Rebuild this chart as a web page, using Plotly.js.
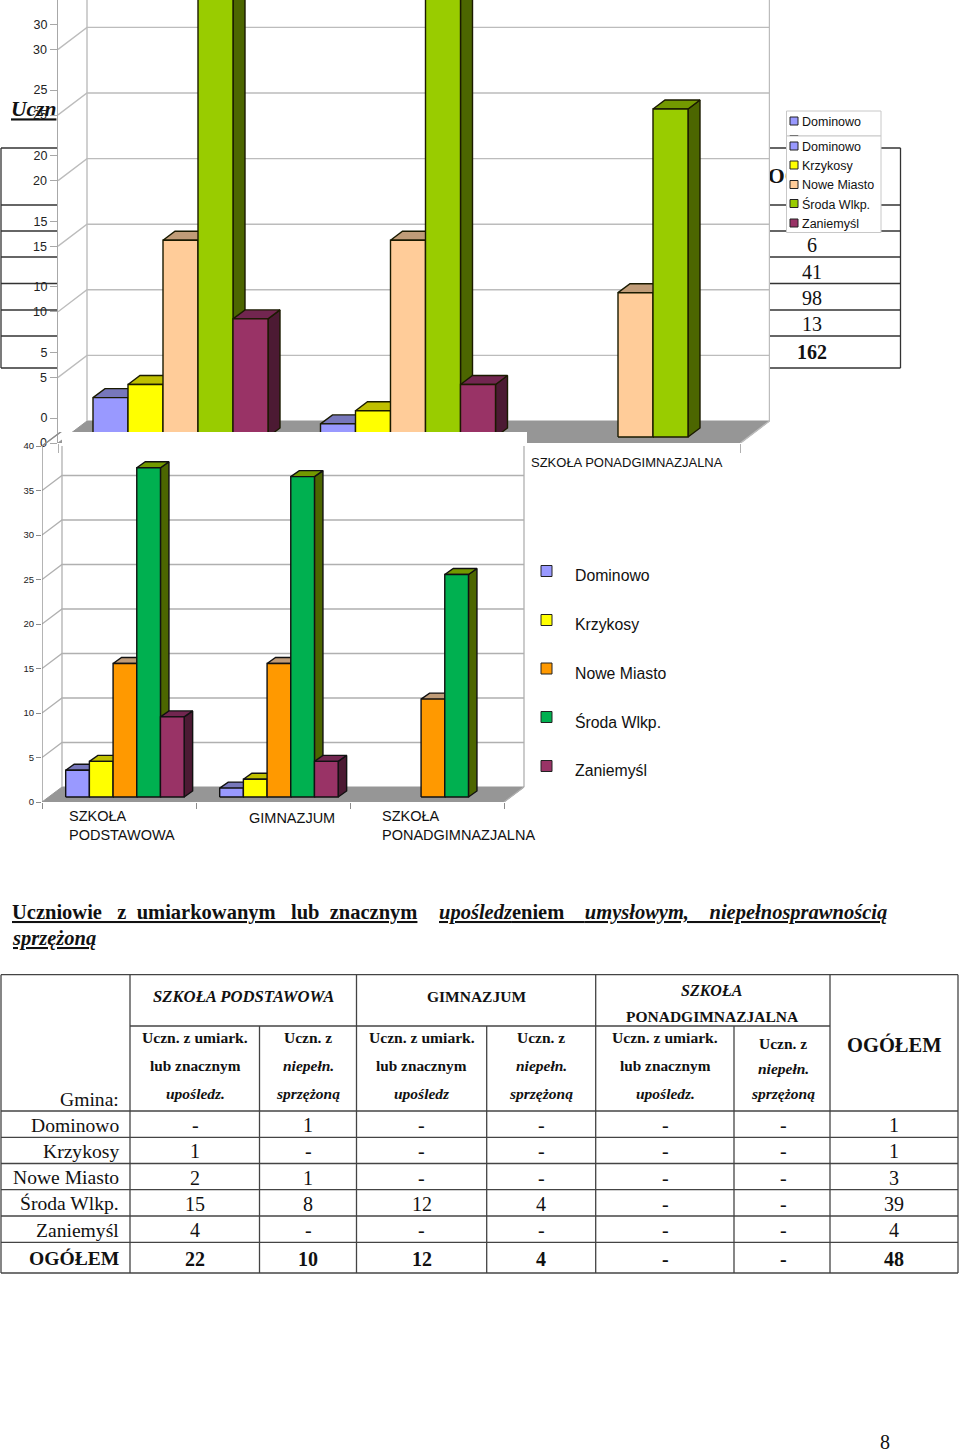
<!DOCTYPE html>
<html>
<head>
<meta charset="utf-8">
<script src="https://cdn.plot.ly/plotly-3.0.1.min.js"></script>
<style>body{margin:0;background:#fff}</style>
</head>
<body>
<div id="page" style="width:960px;height:1452px"></div>
<script>
// chart values, same in both charts
var categories = ['SZKOŁA PODSTAWOWA', 'GIMNAZJUM', 'SZKOŁA PONADGIMNAZJALNA'];
var gminy = ['Dominowo', 'Krzykosy', 'Nowe Miasto', 'Środa Wlkp.', 'Zaniemyśl'];
var dominowo = [3, 1, 0];
var krzykosy = [4, 2, 0];
var noweMiasto = [15, 15, 11];
var srodaWlkp = [37, 36, 25];
var zaniemysl = [9, 4, 0];
var seriesValues = [dominowo, krzykosy, noweMiasto, srodaWlkp, zaniemysl];
var gridValues = [5, 10, 15, 20, 25, 30, 35, 40];

// colours
var frontTop = ['#9999ff', '#ffff00', '#ffcc99', '#99cc00', '#993366'];
var frontLow = ['#9999ff', '#ffff00', '#ff9900', '#00b050', '#993366'];
var capColors = ['#7777bb', '#bfbf00', '#c09c78', '#739900', '#722650'];
var sideColors = ['#4c4c80', '#808000', '#806650', '#4c6600', '#4c1a33'];

// lower table
var rowNames = ['Dominowo', 'Krzykosy', 'Nowe Miasto', 'Środa Wlkp.', 'Zaniemyśl', 'OGÓŁEM'];
var tableRows = [
  ['-', '1', '-', '-', '-', '-', '1'],
  ['1', '-', '-', '-', '-', '-', '1'],
  ['2', '1', '-', '-', '-', '-', '3'],
  ['15', '8', '12', '4', '-', '-', '39'],
  ['4', '-', '-', '-', '-', '-', '4'],
  ['22', '10', '12', '4', '-', '-', '48']
];
var upperTotals = ['6', '41', '98', '13', '162'];

var SERIF = '"Liberation Serif", serif';
var SANS = '"Liberation Sans", Arial, sans-serif';

var traces = [];
var shapes = [];
var annotations = [];

function addText(x, y, text, size, anchor, family, color) {
  annotations.push({
    xref: 'x', yref: 'y', x: x, y: y, text: text, showarrow: false,
    xanchor: anchor || 'center', yanchor: 'middle', align: anchor || 'center', borderpad: 0,
    font: {family: family || SERIF, size: size, color: color || '#111'}
  });
}

function poly(xs, ys, fill, lineColor, width, xa, ya) {
  traces.push({
    x: xs, y: ys, xaxis: xa, yaxis: ya, type: 'scatter', mode: 'lines',
    fill: fill ? 'toself' : 'none', fillcolor: fill || undefined,
    line: {color: lineColor, width: width},
    hoverinfo: 'skip', showlegend: false
  });
}

function hline(x0, x1, y, w) {
  shapes.push({type: 'line', xref: 'x', yref: 'y', x0: x0, x1: x1, y0: y, y1: y, line: {color: '#444', width: w || 1.3}});
}
function vline(x, y0, y1, w) {
  shapes.push({type: 'line', xref: 'x', yref: 'y', x0: x, x1: x, y0: y0, y1: y1, line: {color: '#444', width: w || 1.3}});
}

// one fake 3d chart, c holds the pixel scale of the chart
function draw3d(c) {
  var w = 1 / 6.5;
  var ux = 1 / c.groupPx, uy = 1 / c.unitPx;
  var base = c.basePx * uy;
  var wallX = c.wallDx * ux, wallY = c.wallDy * uy;
  var endX = categories.length;

  // white chart area hides what is under it
  var b = c.blank;
  poly([b[0], b[1], b[1], b[0], b[0]], [b[2], b[2], b[3], b[3], b[2]], '#ffffff', 'rgba(0,0,0,0)', 0, c.xa, c.ya);

  // floor
  poly([0, wallX, endX + wallX, endX, 0], [0, wallY, wallY, 0, 0], '#969696', '#969696', 1, c.xa, c.ya);

  // walls and grid
  var gx = [], gy = [];
  gridValues.forEach(function (v) {
    gx.push(0, wallX, endX + wallX, null);
    gy.push(v, v + wallY, v + wallY, null);
  });
  gx.push(wallX, wallX, null, endX + wallX, endX + wallX, null, endX, endX + wallX);
  gy.push(wallY, c.top, null, wallY, c.top, null, 0, wallY);
  poly(gx, gy, null, c.gridColor, c.gridWidth, c.xa, c.ya);

  // bars, left to right so that the later ones cover the earlier sides
  var dx = c.depthX * ux, dy = c.depthY * uy;
  seriesValues.forEach(function (vals, s) {
    var sideX = [], sideY = [], capX = [], capY = [], frontX = [], frontY = [];
    vals.forEach(function (v, g) {
      if (!v) return;
      var l = g + (1 + s) * w, r = l + w, t = base + v;
      sideX.push(r, r + dx, r + dx, r, r, null);
      sideY.push(base, base + dy, t + dy, t, base, null);
      capX.push(l, l + dx, r + dx, r, l, null);
      capY.push(t, t + dy, t + dy, t, t, null);
      frontX.push(l, r, r, l, l, null);
      frontY.push(base, base, t, t, base, null);
    });
    poly(sideX, sideY, sideColors[s], c.edge, c.edgeWidth, c.xa, c.ya);
    poly(capX, capY, capColors[s], c.edge, c.edgeWidth, c.xa, c.ya);
    poly(frontX, frontY, c.front[s], c.edge, c.edgeWidth, c.xa, c.ya);
  });
}

// text and lines of the page under the upper chart, these get covered by it
var lx = [], ly = [];
[148, 205, 231, 257, 283.5, 310, 336, 368].forEach(function (y) {
  lx.push(1, 900.5, null);
  ly.push(y, y, null);
});
lx.push(1, 1, null, 900.5, 900.5);
ly.push(148, 368, null, 148, 368);
poly(lx, ly, null, '#333', 1.3, 'x', 'y');
traces.push({
  x: [11, 768], y: [111, 178], xaxis: 'x', yaxis: 'y', type: 'scatter', mode: 'text',
  text: ['<b><i><u>Uczn</u></i></b>', '<b>OG</b>'], textposition: 'middle right',
  textfont: {family: SERIF, size: 21.5, color: '#111'}, hoverinfo: 'skip', showlegend: false
});

draw3d({
  xa: 'x2', ya: 'y2', groupPx: 227.5, unitPx: 13.12, basePx: 6, wallDx: 29, wallDy: 22,
  depthX: 12, depthY: 9, top: 34, blank: [0, 712 / 227.5, 0, 34],
  gridColor: '#bcbcbc', gridWidth: 1.4, edge: '#1a1a00', edgeWidth: 1.4, front: frontTop
});
traces.push({x: [null], y: [null], xaxis: 'x2', yaxis: 'y3', type: 'scatter', hoverinfo: 'skip', showlegend: false});

draw3d({
  xa: 'x3', ya: 'y4', groupPx: 154, unitPx: 8.9, basePx: 5, wallDx: 20, wallDy: 15,
  depthX: 8.5, depthY: 6, top: 40, blank: [20 / 154, 485 / 154, 0, 370 / 8.9],
  gridColor: '#b0b0b0', gridWidth: 1.3, edge: '#111', edgeWidth: 1.4, front: frontLow
});
// front axis line of the lower chart
poly([0, 0, 20 / 154], [0, 40, 40 + 15 / 8.9], null, '#8c8c8c', 1.3, 'x3', 'y4');

// heading of the lower table
addText(11, 912, '<b><u>Uczniowie   z  umiarkowanym   lub  znacznym</u></b>', 20.5, 'left');
addText(438, 912, '<b><u><i>upośledz</i>eniem    <i>umysłowym,    niepełnosprawnością</i></u></b>', 20.5, 'left');
addText(11, 938, '<b><i><u>sprzężoną</u></i></b>', 20.5, 'left');

// lower table grid
[974.7, 1111, 1137.3, 1163.5, 1189.7, 1216, 1242.3, 1273].forEach(function (y) { hline(1, 958, y); });
hline(130, 830, 1026);
[1, 130, 356.5, 595.7, 830, 958].forEach(function (x) { vline(x, 974.7, 1273); });
[259.5, 486.7, 734].forEach(function (x) { vline(x, 1026, 1273); });

var colCenters = [195, 308, 421.5, 541, 665, 783, 894];
addText(243, 996, '<b><i>SZKOŁA PODSTAWOWA</i></b>', 16.7);
addText(476, 996, '<b>GIMNAZJUM</b>', 15.5);
addText(712, 990, '<b><i>SZKOŁA</i></b>', 16);
addText(712, 1016, '<b>PONADGIMNAZJALNA</b>', 15.5);
[195, 421.5, 665].forEach(function (x, i) {
  addText(x, 1037, '<b>Uczn. z umiark.</b>', 15.6);
  addText(x, 1065, '<b>lub znacznym</b>', 15.3);
  addText(x, 1093, i === 1 ? '<b><i>upośledz</i></b>' : '<b><i>upośledz.</i></b>', 15.5);
});
[308, 541].forEach(function (x) {
  addText(x, 1037, '<b>Uczn. z</b>', 15.5);
  addText(x, 1065, '<b><i>niepełn.</i></b>', 15.5);
  addText(x, 1093, '<b><i>sprzężoną</i></b>', 15.5);
});
addText(783, 1043, '<b>Uczn. z</b>', 15.5);
addText(783, 1068, '<b><i>niepełn.</i></b>', 15.5);
addText(783, 1093, '<b><i>sprzężoną</i></b>', 15.5);
addText(894, 1044, '<b>OGÓŁEM</b>', 20.5);
addText(120, 1099, 'Gmina:', 19.6, 'right');

var rowCenters = [1125, 1151, 1177.5, 1203.5, 1230, 1258.5];
rowNames.forEach(function (name, r) {
  var bold = r === rowNames.length - 1;
  addText(120, rowCenters[r], bold ? '<b>' + name + '</b>' : name, 19.6, 'right');
  tableRows[r].forEach(function (v, c) {
    addText(colCenters[c], rowCenters[r], bold ? '<b>' + v + '</b>' : v, 20);
  });
});

// visible rest of the upper table
[245, 271.5, 297.5, 323.5, 352].forEach(function (y, i) {
  addText(812, y, i === 4 ? '<b>' + upperTotals[i] + '</b>' : upperTotals[i], 20);
});

addText(885, 1442, '8', 20);

// category labels
addText(530, 462, categories[2], 13, 'left', SANS);
addText(68, 825.5, 'SZKOŁA<br>PODSTAWOWA', 14.5, 'left', SANS);
addText(248, 817.5, categories[1], 14.5, 'left', SANS);
addText(381, 825.5, 'SZKOŁA<br>PONADGIMNAZJALNA', 14.5, 'left', SANS);

// legend of the upper chart, second box sits over the first
function legendBox(y0, y1) {
  shapes.push({type: 'rect', xref: 'x', yref: 'y', x0: 786.5, x1: 881, y0: y0, y1: y1, fillcolor: '#fff', line: {color: '#c8c8c8', width: 1}});
}
function legendKey(x0, x1, y0, y1, color) {
  shapes.push({type: 'rect', xref: 'x', yref: 'y', x0: x0, x1: x1, y0: y0, y1: y1, fillcolor: color, line: {color: '#222', width: 1}});
}
legendBox(111, 136);
legendKey(790, 798, 117, 125, frontTop[0]);
legendKey(790, 798, 135.5, 143, frontTop[1]);
legendBox(136, 232.5);
addText(801, 121.5, gminy[0], 12.5, 'left', SANS);
[146.5, 165.5, 185, 204, 223.5].forEach(function (y, i) {
  legendKey(790, 798, y - 4.5, y + 3.5, frontTop[i]);
  addText(801, y, gminy[i], 12.5, 'left', SANS);
});

// legend of the lower chart
[571, 620, 668.5, 717, 766].forEach(function (y, i) {
  legendKey(541, 552, y - 5.5, y + 5.5, frontLow[i]);
  addText(573.5, y + 4.5, gminy[i], 15.8, 'left', SANS);
});

function px(v) { return v / 960; }
function py(v) { return 1 - v / 1452; }
var hidden = {visible: false, fixedrange: true};
var tickFont = {family: SANS, size: 12.5, color: '#222'};

var layout = {
  width: 960, height: 1452,
  margin: {l: 0, r: 0, t: 0, b: 0},
  paper_bgcolor: '#fff', plot_bgcolor: 'rgba(0,0,0,0)',
  showlegend: false,
  shapes: shapes, annotations: annotations,
  // page in pixels
  xaxis: Object.assign({domain: [0, 1], range: [0, 960], anchor: 'y'}, hidden),
  yaxis: Object.assign({domain: [0, 1], range: [1452, 0], anchor: 'x'}, hidden),
  // upper chart
  xaxis2: {
    domain: [px(58), px(770)], range: [0, 712 / 227.5], anchor: 'y2',
    tickmode: 'array', tickvals: [0, 1, 2, 3], ticktext: ['', '', '', ''],
    ticks: 'outside', ticklen: 9, tickcolor: '#b0b0b0', showgrid: false, zeroline: false, showline: false
  },
  yaxis2: {
    domain: [py(443), 1], range: [0, 443 / 13.12], anchor: 'x2', dtick: 5, tick0: 0,
    ticks: 'outside', ticklen: 7, tickcolor: '#a8a8a8', showgrid: false, zeroline: false,
    showline: true, linecolor: '#a8a8a8', linewidth: 1.5, tickfont: tickFont
  },
  yaxis3: {
    domain: [py(443), 1], range: [-25 / 13.12, 418 / 13.12], anchor: 'x2', overlaying: 'y2', dtick: 5, tick0: 0,
    ticks: 'outside', ticklen: 7, tickcolor: '#a8a8a8', showgrid: false, zeroline: false,
    showline: false, tickfont: tickFont
  },
  // lower chart
  xaxis3: {
    domain: [px(42), px(527)], range: [0, 485 / 154], anchor: 'y4',
    tickmode: 'array', tickvals: [0, 1, 2, 3], ticktext: ['', '', '', ''],
    ticks: 'outside', ticklen: 6, tickcolor: '#8c8c8c', showgrid: false, zeroline: false, showline: false
  },
  yaxis4: {
    domain: [py(802), py(432)], range: [0, 370 / 8.9], anchor: 'x3', dtick: 5, tick0: 0,
    ticks: 'outside', ticklen: 5, tickcolor: '#8c8c8c', showgrid: false, zeroline: false,
    showline: false, tickfont: {family: SANS, size: 9.5, color: '#222'}
  }
};

Plotly.newPlot('page', traces, layout, {displayModeBar: false, staticPlot: true});
</script>
</body>
</html>
